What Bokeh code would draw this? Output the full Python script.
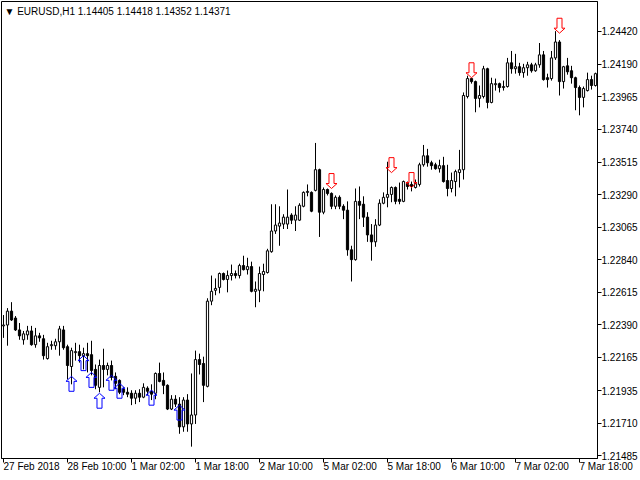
from bokeh.embed import file_html
from bokeh.models import FixedTicker, Label, PrintfTickFormatter, Range1d
from bokeh.plotting import figure
from bokeh.resources import INLINE

# EURUSD H1 candles (one bar per hour)
opens = [
    1.22382, 1.22388, 1.22484, 1.22436, 1.22354, 1.22286, 1.22320, 1.22347, 1.22252, 1.22313,
    1.22293, 1.22156, 1.22245, 1.22245, 1.22272, 1.22354, 1.22238, 1.22101, 1.22197, 1.22204,
    1.22176, 1.22190, 1.22183, 1.22081, 1.21957, 1.22108, 1.22081, 1.22108, 1.22033, 1.22005,
    1.21944, 1.21923, 1.21916, 1.21882, 1.21916, 1.21889, 1.21951, 1.21930, 1.21916, 1.22053,
    1.22005, 1.21971, 1.21807, 1.21875, 1.21841, 1.21684, 1.21869, 1.21704, 1.21766, 1.22149,
    1.22122, 1.21964, 1.22553, 1.22628, 1.22648, 1.22744, 1.22703, 1.22730, 1.22744, 1.22730,
    1.22799, 1.22771, 1.22792, 1.22621, 1.22628, 1.22737, 1.22751, 1.22895, 1.23038, 1.23072,
    1.23086, 1.23086, 1.23148, 1.23113, 1.23113, 1.23209, 1.23305, 1.23305, 1.23319, 1.23462,
    1.23168, 1.23325, 1.23298, 1.23209, 1.23271, 1.23209, 1.23182, 1.22908, 1.22840, 1.23243,
    1.23223, 1.23134, 1.23011, 1.22963, 1.23079, 1.23230, 1.23271, 1.23291, 1.23339, 1.23257,
    1.23243, 1.23366, 1.23360, 1.23339, 1.23360, 1.23496, 1.23558, 1.23510, 1.23496, 1.23469,
    1.23490, 1.23387, 1.23332, 1.23380, 1.23442, 1.23462, 1.23968, 1.24092, 1.24071, 1.23955,
    1.23968, 1.24160, 1.23927, 1.24050, 1.24057, 1.24030, 1.24037, 1.24201, 1.24160, 1.24174,
    1.24133, 1.24167, 1.24187, 1.24146, 1.24187, 1.24256, 1.24098, 1.24092, 1.24235, 1.24345,
    1.24071, 1.24180, 1.24146, 1.24098, 1.24030, 1.23962, 1.24009, 1.24085, 1.24044,
]
highs = [
    1.22457, 1.22505, 1.22546, 1.22450, 1.22402, 1.22347, 1.22382, 1.22382, 1.22368, 1.22334,
    1.22320, 1.22265, 1.22279, 1.22293, 1.22382, 1.22382, 1.22252, 1.22231, 1.22265, 1.22252,
    1.22231, 1.22265, 1.22279, 1.22115, 1.22149, 1.22224, 1.22128, 1.22142, 1.22060, 1.22012,
    1.21957, 1.21957, 1.21937, 1.21937, 1.21944, 1.21985, 1.21964, 1.21978, 1.22060, 1.22128,
    1.22060, 1.21978, 1.21903, 1.21903, 1.21889, 1.21889, 1.21910, 1.22053, 1.22211, 1.22190,
    1.22169, 1.22573, 1.22730, 1.22710, 1.22751, 1.22751, 1.22765, 1.22806, 1.22765, 1.22812,
    1.22867, 1.22853, 1.22826, 1.22689, 1.22792, 1.22812, 1.22915, 1.23223, 1.23223, 1.23209,
    1.23154, 1.23325, 1.23161, 1.23209, 1.23230, 1.23312, 1.23360, 1.23312, 1.23647, 1.23469,
    1.23339, 1.23332, 1.23305, 1.23284, 1.23284, 1.23223, 1.23243, 1.22936, 1.23332, 1.23346,
    1.23278, 1.23168, 1.23086, 1.23120, 1.23257, 1.23305, 1.23517, 1.23346, 1.23346, 1.23373,
    1.23387, 1.23380, 1.23380, 1.23394, 1.23510, 1.23633, 1.23606, 1.23524, 1.23510, 1.23531,
    1.23551, 1.23496, 1.23442, 1.23462, 1.23599, 1.23996, 1.24112, 1.24098, 1.24078, 1.24044,
    1.24180, 1.24167, 1.24098, 1.24092, 1.24064, 1.24078, 1.24235, 1.24283, 1.24263, 1.24201,
    1.24194, 1.24208, 1.24201, 1.24201, 1.24338, 1.24283, 1.24126, 1.24283, 1.24420, 1.24358,
    1.24180, 1.24235, 1.24180, 1.24105, 1.24044, 1.24037, 1.24133, 1.24112, 1.24133,
]
lows = [
    1.22299, 1.22245, 1.22416, 1.22347, 1.22286, 1.22252, 1.22286, 1.22245, 1.22231, 1.22272,
    1.22149, 1.22149, 1.22217, 1.22217, 1.22176, 1.22217, 1.22012, 1.21978, 1.22142, 1.22128,
    1.22081, 1.22060, 1.22040, 1.21944, 1.21923, 1.21957, 1.22040, 1.22005, 1.21944, 1.21910,
    1.21903, 1.21889, 1.21834, 1.21841, 1.21855, 1.21882, 1.21903, 1.21869, 1.21875, 1.21992,
    1.21910, 1.21800, 1.21800, 1.21821, 1.21636, 1.21650, 1.21650, 1.21547, 1.21704, 1.22046,
    1.21855, 1.21957, 1.22525, 1.22594, 1.22607, 1.22696, 1.22614, 1.22696, 1.22710, 1.22710,
    1.22765, 1.22737, 1.22614, 1.22511, 1.22546, 1.22621, 1.22744, 1.22888, 1.23018, 1.22936,
    1.23052, 1.23052, 1.23086, 1.23038, 1.23107, 1.23202, 1.23278, 1.23168, 1.23312, 1.22997,
    1.23154, 1.23284, 1.23189, 1.23189, 1.23189, 1.23120, 1.22867, 1.22689, 1.22833, 1.23120,
    1.23066, 1.22963, 1.22833, 1.22929, 1.23072, 1.23223, 1.23202, 1.23237, 1.23223, 1.23223,
    1.23237, 1.23325, 1.23312, 1.23332, 1.23346, 1.23483, 1.23483, 1.23462, 1.23462, 1.23442,
    1.23373, 1.23278, 1.23305, 1.23278, 1.23339, 1.23394, 1.23955, 1.24057, 1.23859, 1.23893,
    1.23955, 1.23886, 1.23921, 1.24009, 1.23996, 1.24009, 1.24030, 1.24126, 1.24126, 1.24112,
    1.24098, 1.24112, 1.24133, 1.24139, 1.24167, 1.24078, 1.24030, 1.24078, 1.24221, 1.23975,
    1.24023, 1.24119, 1.24057, 1.23873, 1.23838, 1.23893, 1.24003, 1.24016, 1.24037,
]
closes = [
    1.22388, 1.22484, 1.22423, 1.22354, 1.22313, 1.22327, 1.22347, 1.22252, 1.22313, 1.22299,
    1.22176, 1.22238, 1.22252, 1.22272, 1.22361, 1.22231, 1.22108, 1.22211, 1.22204, 1.22176,
    1.22190, 1.22176, 1.22074, 1.21971, 1.22108, 1.22081, 1.22108, 1.22026, 1.21985, 1.21923,
    1.21923, 1.21910, 1.21882, 1.21916, 1.21889, 1.21957, 1.21930, 1.21910, 1.22053, 1.21998,
    1.21971, 1.21807, 1.21875, 1.21841, 1.21684, 1.21869, 1.21704, 1.21766, 1.22149, 1.22115,
    1.21971, 1.22553, 1.22621, 1.22641, 1.22744, 1.22703, 1.22730, 1.22744, 1.22730, 1.22799,
    1.22771, 1.22792, 1.22621, 1.22635, 1.22744, 1.22758, 1.22901, 1.23038, 1.23079, 1.23093,
    1.23134, 1.23134, 1.23113, 1.23148, 1.23216, 1.23305, 1.23312, 1.23175, 1.23462, 1.23168,
    1.23325, 1.23298, 1.23209, 1.23271, 1.23209, 1.23182, 1.22908, 1.22840, 1.23243, 1.23216,
    1.23134, 1.23011, 1.22963, 1.23079, 1.23230, 1.23271, 1.23291, 1.23339, 1.23243, 1.23243,
    1.23380, 1.23346, 1.23346, 1.23366, 1.23496, 1.23558, 1.23510, 1.23490, 1.23469, 1.23490,
    1.23380, 1.23332, 1.23387, 1.23449, 1.23462, 1.23975, 1.24092, 1.24071, 1.23955, 1.23975,
    1.24160, 1.23927, 1.24057, 1.24057, 1.24030, 1.24037, 1.24201, 1.24160, 1.24174, 1.24133,
    1.24167, 1.24187, 1.24146, 1.24187, 1.24256, 1.24085, 1.24085, 1.24235, 1.24345, 1.24071,
    1.24174, 1.24139, 1.24098, 1.24030, 1.23962, 1.24023, 1.24085, 1.24044, 1.24126,
]

time_ticks = [0, 16, 32, 48, 64, 80, 96, 112, 128, 144]
time_labels = ["27 Feb 2018", "28 Feb 10:00", "1 Mar 02:00", "1 Mar 18:00", "2 Mar 10:00",
               "5 Mar 02:00", "5 Mar 18:00", "6 Mar 10:00", "7 Mar 02:00", "7 Mar 18:00"]
price_ticks = [1.21485, 1.21710, 1.21935, 1.22165, 1.22390, 1.22615, 1.22840,
               1.23065, 1.23290, 1.23515, 1.23740, 1.23965, 1.24190, 1.24420]

# signal arrows: bar index and price of the arrow tip
buy_bars = [17, 20, 22, 24, 27, 29, 37, 44]
buy_prices = [1.22033, 1.22176, 1.22060, 1.21916, 1.22040, 1.21985, 1.21937, 1.21834]
sell_bars = [82, 97, 102, 117, 139]
sell_prices = [1.23332, 1.23442, 1.23339, 1.24098, 1.24406]

header = "\u25bc EURUSD,H1  1.14405 1.14418 1.14352 1.14371"

FONT = "Liberation Sans"
FRAME_W, FRAME_H = 593, 459
x_lo, x_hi = -0.5, len(opens) - 0.5
y_lo, y_hi = 1.21465, 1.24625

p = figure(width=640, height=480, x_range=Range1d(x_lo, x_hi), y_range=Range1d(y_lo, y_hi),
           y_axis_location="right", output_backend="svg", toolbar_location=None, tools="",
           min_border=0, min_border_left=1, min_border_top=1, min_border_right=0,
           min_border_bottom=0)
p.background_fill_color = "white"
p.border_fill_color = "white"
p.outline_line_color = "black"
p.grid.visible = False

idx = list(range(len(opens)))
up = [i for i in idx if closes[i] >= opens[i]]
dn = [i for i in idx if closes[i] < opens[i]]

p.segment(x0=idx, y0=lows, x1=idx, y1=highs, line_color="black", line_width=1)
p.vbar(x=up, width=0.55, bottom=[opens[i] for i in up], top=[closes[i] for i in up],
       fill_color="white", line_color="black", line_width=1)
p.vbar(x=dn, width=0.55, bottom=[closes[i] for i in dn], top=[opens[i] for i in dn],
       fill_color="black", line_color="black", line_width=1)

# hollow arrows, shape given in pixels around the tip
bar_px = (x_hi - x_lo) / FRAME_W
price_px = (y_hi - y_lo) / FRAME_H
shape = [(0, 0), (5.5, -5), (2.5, -5), (2.5, -15), (-2.5, -15), (-2.5, -5), (-5.5, -5)]


def arrows(bars, prices, sign):
    xs = [[b + dx * bar_px for dx, dy in shape] for b in bars]
    ys = [[pr + sign * dy * price_px for dx, dy in shape] for pr in prices]
    return xs, ys


bx, by = arrows(buy_bars, buy_prices, 1)
p.patches(bx, by, fill_color=None, line_color="#0000ff", line_width=1)
sx, sy = arrows(sell_bars, sell_prices, -1)
p.patches(sx, sy, fill_color=None, line_color="#ff0000", line_width=1)

ya = p.yaxis[0]
ya.ticker = FixedTicker(ticks=price_ticks)
ya.formatter = PrintfTickFormatter(format="%.5f")
ya.major_tick_in = 0
ya.major_tick_out = 4
ya.minor_tick_line_color = None
ya.axis_line_color = "black"
ya.major_label_standoff = 0
ya.major_label_text_font = FONT
ya.major_label_text_font_size = "10px"
ya.major_label_text_color = "black"

# a tiny negative angle makes the bottom labels start at their tick
xa = p.xaxis[0]
xa.ticker = FixedTicker(ticks=time_ticks)
xa.major_label_overrides = dict(zip(time_ticks, time_labels))
xa.major_label_orientation = -1e-6
xa.major_label_standoff = 4
xa.major_label_text_font = FONT
xa.major_label_text_font_size = "10px"
xa.major_label_text_color = "black"
xa.major_tick_in = 0
xa.major_tick_out = 4
xa.minor_tick_line_color = None
xa.axis_line_color = "black"

p.add_layout(Label(x=x_lo, y=y_hi, x_offset=3, y_offset=-4, text=header, text_align="left",
                   text_baseline="top", text_font=FONT, text_font_size="10px",
                   text_color="black"))

open("out.html", "w").write(file_html(p, INLINE))
